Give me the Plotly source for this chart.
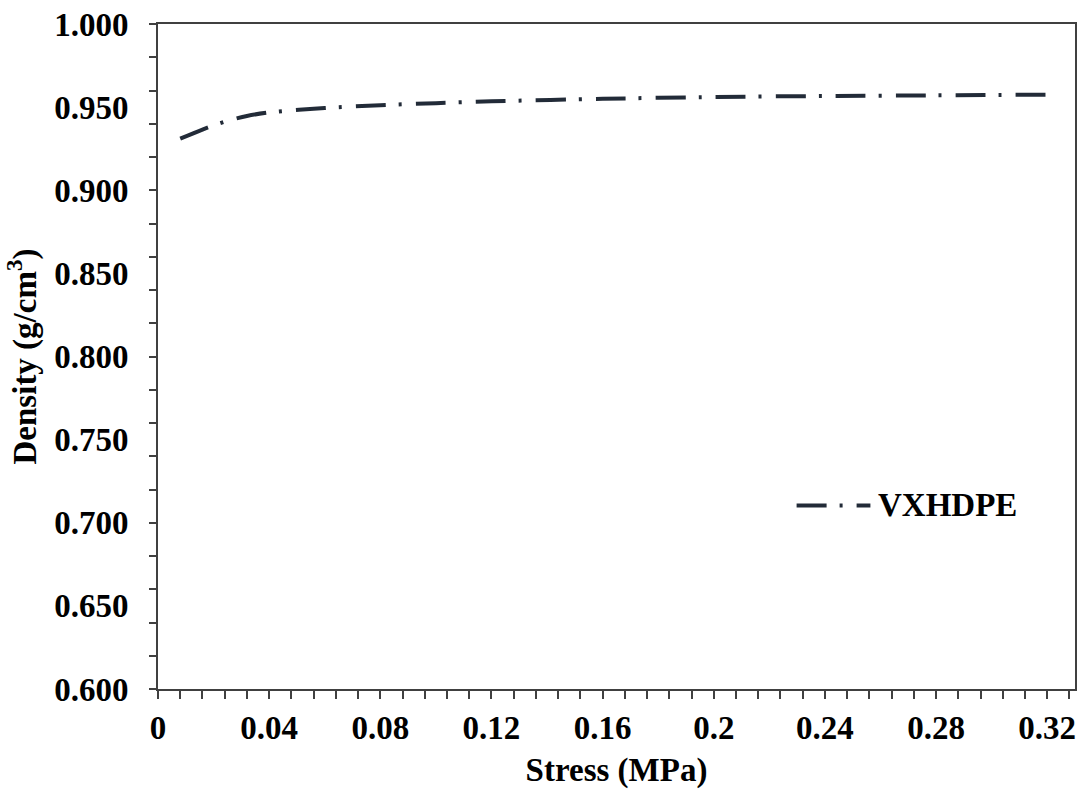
import plotly.graph_objects as go

# Stress (MPa) vs. density (g/cm^3) for VXHDPE
stress = [0.008, 0.016, 0.024, 0.032, 0.040, 0.060, 0.080, 0.100, 0.120,
          0.160, 0.200, 0.240, 0.280, 0.322]
density = [0.9310, 0.9365, 0.9412, 0.9447, 0.9468, 0.9495, 0.9512, 0.9524,
           0.9535, 0.9550, 0.9561, 0.9567, 0.9571, 0.9575]
series_name = "VXHDPE"

x_tick_vals = [0, 0.04, 0.08, 0.12, 0.16, 0.2, 0.24, 0.28, 0.32]
x_tick_text = ["0", "0.04", "0.08", "0.12", "0.16", "0.2", "0.24", "0.28", "0.32"]
y_tick_vals = [0.60, 0.65, 0.70, 0.75, 0.80, 0.85, 0.90, 0.95, 1.00]
y_tick_text = [f"{v:.3f}" for v in y_tick_vals]

FONT = "Liberation Serif"
LINE_COLOR = "#222b38"
AXIS_COLOR = "#404040"
DASH = "30px,13px,3px,14px"

fig = go.Figure()
fig.add_trace(go.Scatter(
    x=stress, y=density, mode="lines", name=series_name,
    line=dict(color=LINE_COLOR, width=4, dash=DASH, shape="spline", smoothing=0.8),
    showlegend=False,
))
# empty trace so the tick-only y axis (0.02 spacing) is rendered
fig.add_trace(go.Scatter(x=[None], y=[None], yaxis="y2", mode="lines",
                         showlegend=False, hoverinfo="skip"))

tick_font = dict(family=FONT, size=33, color="black", weight="bold")

fig.update_layout(
    width=1084, height=796,
    margin=dict(l=158, r=7, t=22, b=107),
    paper_bgcolor="white", plot_bgcolor="white",
    xaxis=dict(
        range=[0, 0.33], tickvals=x_tick_vals, ticktext=x_tick_text,
        ticks="outside", ticklen=8, tickwidth=2, tickcolor=AXIS_COLOR,
        minor=dict(dtick=0.008, tick0=0, ticks="outside", ticklen=8,
                   tickwidth=2, tickcolor=AXIS_COLOR),
        showline=True, linecolor=AXIS_COLOR, linewidth=2, mirror=True,
        showgrid=False, zeroline=False, tickfont=tick_font,
        title=dict(text="Stress (MPa)", font=dict(family=FONT, size=33,
                   color="black", weight="bold"), standoff=13),
    ),
    yaxis=dict(
        range=[0.6, 1.0], tickvals=y_tick_vals, ticktext=y_tick_text,
        ticks="", ticklabelstandoff=21,
        showline=True, linecolor=AXIS_COLOR, linewidth=2, mirror=True,
        showgrid=False, zeroline=False, tickfont=tick_font,
        title=dict(text="Density (g/cm<sup>3</sup>)",
                   font=dict(family=FONT, size=33, color="black", weight="bold"),
                   standoff=8),
    ),
    yaxis2=dict(
        range=[0.6, 1.0], overlaying="y", side="left", anchor="x",
        tick0=0.6, dtick=0.02, ticks="outside", ticklen=8, tickwidth=2,
        tickcolor=AXIS_COLOR, showticklabels=False, showgrid=False,
        zeroline=False, showline=False,
    ),
)

# Legend: line sample plus label
fig.add_shape(type="line", xref="paper", yref="paper",
              x0=0.6964, x1=0.7769, y0=0.276, y1=0.276,
              line=dict(color=LINE_COLOR, width=4, dash=DASH))
fig.add_annotation(text=series_name, xref="paper", yref="paper",
                   x=0.7835, y=0.277, xanchor="left", yanchor="middle",
                   showarrow=False,
                   font=dict(family=FONT, size=33, color="black", weight="bold"))

fig.write_html("out.html")
